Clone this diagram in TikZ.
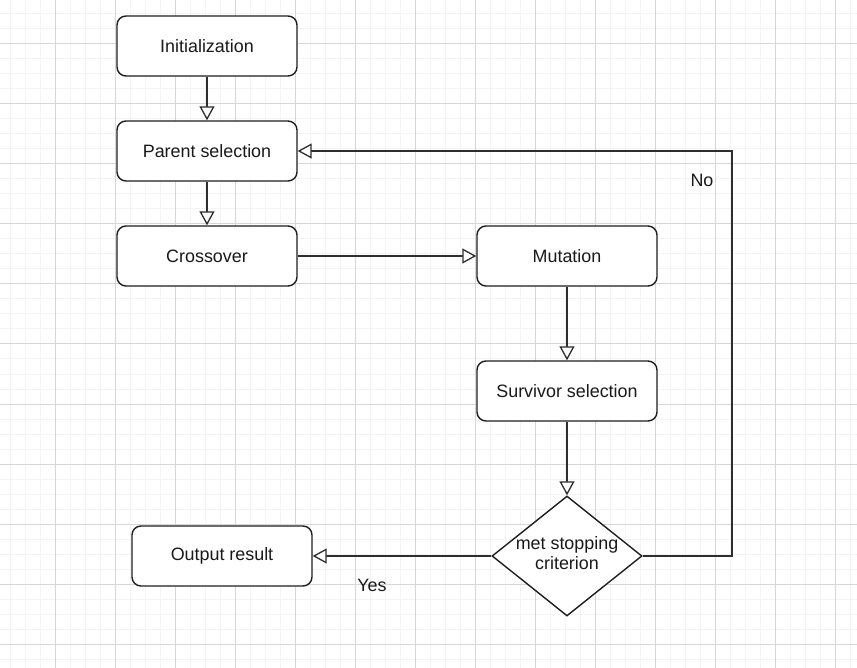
\documentclass[tikz,border=0pt]{standalone}
\usepackage{fontspec}
\setmainfont{Liberation Sans}
\usetikzlibrary{arrows.meta,shapes.geometric}
\definecolor{gridmajor}{HTML}{D6D6D6}
\definecolor{gridminor}{HTML}{F4F4F4}
\definecolor{edge}{HTML}{1E1E1E}
\definecolor{conn}{HTML}{2E2E2E}
\begin{document}
\begin{tikzpicture}[x=1pt,y=-1pt,
  txt/.style={font=\fontsize{17.9}{20.5}\selectfont, text=black!90},
  box/.style={txt, draw=edge, line width=1.4pt, rounded corners=9pt,
    minimum width=180pt, minimum height=60pt, inner sep=0pt, fill=white},
  dec/.style={draw=edge, line width=1.4pt, diamond, aspect=1.25,
    minimum width=150pt, minimum height=120pt, inner sep=0pt, fill=white},
  arr/.style={draw=conn, line width=1.3pt,
    -{Triangle[width=15pt,length=14pt,fill=white]}},
  lbl/.style={txt, inner sep=0pt}]
\useasboundingbox (0,0) rectangle (857,668);
\fill[white] (0,0) rectangle (857,668);
% grid
\foreach \x in {10,25,...,850} \draw[gridminor, line width=1pt] (\x,0) -- (\x,668);
\foreach \y in {14,29,...,660} \draw[gridminor, line width=1pt] (0,\y) -- (857,\y);
\foreach \x in {55,115,...,835} \draw[gridmajor, line width=1pt] (\x,0) -- (\x,668);
\foreach \y in {44,104,...,644} \draw[gridmajor, line width=1pt] (0,\y) -- (857,\y);
% nodes
\node[box] (init) at (207,46) {Initialization};
\node[box] (parent) at (207,151) {Parent selection};
\node[box] (cross) at (207,256) {Crossover};
\node[box] (mut) at (567,256) {Mutation};
\node[box] (surv) at (567,391) {Survivor selection};
\node[dec] (crit) at (567,556) {};
\node[txt, align=center, inner sep=0pt] (crittext) at (567,553) {met stopping\\criterion};
\node[box] (out) at (222,556) {Output result};
\node[lbl] (no) at (702,180) {No};
\node[lbl] (yes) at (372,585) {Yes};
% connectors
\draw[arr] (init) -- (parent);
\draw[arr] (parent) -- (cross);
\draw[arr] (cross) -- (mut);
\draw[arr] (mut) -- (surv);
\draw[arr] (surv) -- (crit);
\draw[arr] (crit) -- (out);
\coordinate (loop) at (732,556);
\draw[arr] (crit.east) -- (loop) |- (parent.east);
\end{tikzpicture}
\end{document}
